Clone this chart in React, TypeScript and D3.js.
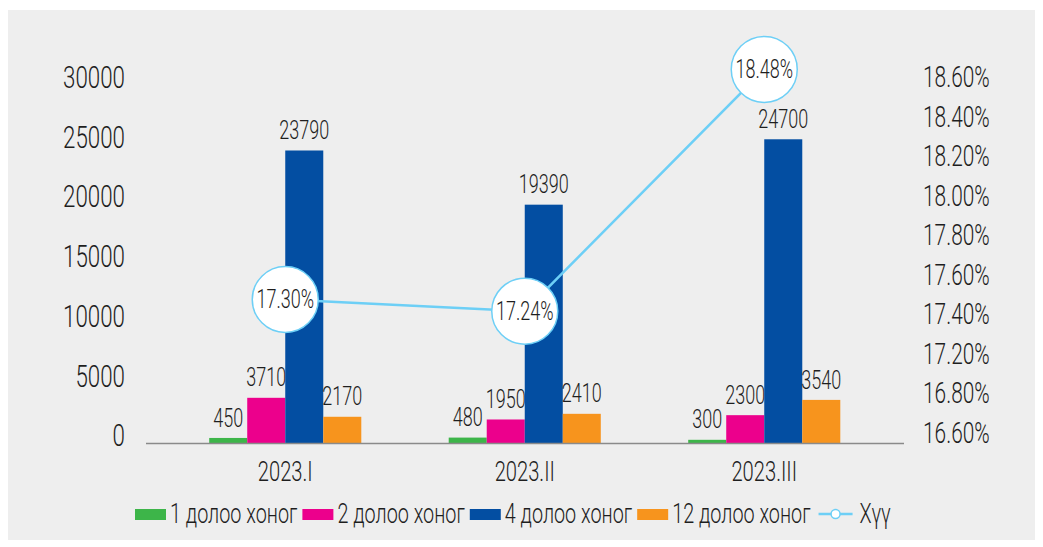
import { useMemo } from "react";
import * as d3 from "d3";

const categories = ["2023.I", "2023.II", "2023.III"];
const seriesNames = ["1 долоо хоног", "2 долоо хоног", "4 долоо хоног", "12 долоо хоног"];
const seriesColors = ["#3db549", "#ec008c", "#034ea2", "#f7941d"];
const week1 = [450, 480, 300];
const week2 = [3710, 1950, 2300];
const week4 = [23790, 19390, 24700];
const week12 = [2170, 2410, 3540];
const rate = [17.3, 17.24, 18.48];
const rateName = "Хүү";
const leftTicks = [0, 5000, 10000, 15000, 20000, 25000, 30000];
const rightTickLabels = ["18.60%", "18.40%", "18.20%", "18.00%", "17.80%", "17.60%", "17.40%", "17.20%", "16.80%", "16.60%"];

const FONT = "Roboto, 'Liberation Sans', Arial, sans-serif";
const SX = 0.72; // squeeze to mimic the condensed face
const TEXT = "#1e1e1e";
const LINE = "#6dcff6";

const width = 1043;
const height = 547;

const measure = (txt, size) => {
  const c = document.createElement("canvas").getContext("2d");
  c.font = `300 ${size}px ${FONT}`;
  return c.measureText(txt).width * SX;
};

// condensed text: translate to the anchor then squeeze horizontally
const T = ({ x, y, size, anchor = "start", children }) => (
  <text
    transform={`translate(${x},${y}) scale(${SX},1)`}
    fontSize={size}
    textAnchor={anchor}
    dominantBaseline="central"
  >
    {children}
  </text>
);

const App = () => {
  const series = [week1, week2, week4, week12];

  const x = d3.scaleBand().domain(categories).range([165.5, 884]).paddingInner(0.365).paddingOuter(0.1825);
  const xs = d3.scaleBand().domain(d3.range(series.length)).range([0, x.bandwidth()]);
  const y = d3.scaleLinear().domain([0, 30000]).range([443.5, 74]);
  const yLabel = d3.scaleLinear().domain([0, 30000]).range([436, 77.5]);
  const yRight = d3.scalePoint().domain(rightTickLabels).range([77.5, 433]);
  const yRate = d3.scaleLinear().domain([16.6, 18.6]).range([436, 46]);

  const line = d3
    .line()
    .x((d, i) => x(categories[i]) + x.bandwidth() / 2)
    .y((d) => yRate(d));

  const legend = useMemo(() => {
    const size = 27.5;
    let cx = 135;
    const items = seriesNames.map((name, i) => {
      const item = { name, color: seriesColors[i], x: cx, tx: cx + 35 };
      cx = item.tx + measure(name, size) + 5;
      return item;
    });
    return { items, lineX: cx + 3, textX: cx + 44, size };
  }, []);

  return (
    <svg width={width} height={height} style={{ display: "block", position: "absolute", left: 0, top: 0 }}>
      <rect x={8} y={10} width={1027} height={530} fill="#eeeeee" />
      <g fontFamily={FONT} fontWeight={300} fill={TEXT}>
        {leftTicks.map((t) => (
          <T key={t} x={125} y={yLabel(t)} size={31} anchor="end">
            {t}
          </T>
        ))}
        {rightTickLabels.map((t) => (
          <T key={t} x={923} y={yRight(t)} size={29}>
            {t}
          </T>
        ))}
        {series.map((vals, si) =>
          vals.map((v, ci) => {
            const bx = x(categories[ci]) + xs(si);
            return (
              <g key={`${si}-${ci}`}>
                <rect x={bx} y={y(v)} width={xs.bandwidth()} height={y(0) - y(v)} fill={seriesColors[si]} />
                <T x={bx + xs.bandwidth() / 2} y={y(v) - 20} size={25} anchor="middle">
                  {v}
                </T>
              </g>
            );
          })
        )}
        <line x1={146} x2={904} y1={y(0)} y2={y(0)} stroke="#8a8a8a" strokeWidth={1.5} />
        {categories.map((c) => (
          <T key={c} x={x(c) + x.bandwidth() / 2} y={471} size={28} anchor="middle">
            {c}
          </T>
        ))}
        <path d={line(rate)} fill="none" stroke={LINE} strokeWidth={2.5} />
        {rate.map((r, i) => {
          const cx = x(categories[i]) + x.bandwidth() / 2;
          return (
            <g key={i}>
              <circle cx={cx} cy={yRate(r)} r={33} fill="#ffffff" stroke={LINE} strokeWidth={1.5} />
              <T x={cx} y={yRate(r)} size={25} anchor="middle">
                {r.toFixed(2)}%
              </T>
            </g>
          );
        })}
        {legend.items.map((it) => (
          <g key={it.name}>
            <rect x={it.x} y={509} width={31} height={11} fill={it.color} />
            <T x={it.tx} y={514} size={legend.size}>
              {it.name}
            </T>
          </g>
        ))}
        <line x1={legend.lineX} x2={legend.lineX + 34} y1={514} y2={514} stroke={LINE} strokeWidth={2.5} />
        <circle cx={legend.lineX + 17} cy={514} r={4.5} fill="#ffffff" stroke={LINE} strokeWidth={1.5} />
        <T x={legend.textX} y={514} size={legend.size}>
          {rateName}
        </T>
      </g>
    </svg>
  );
};

export default App;
